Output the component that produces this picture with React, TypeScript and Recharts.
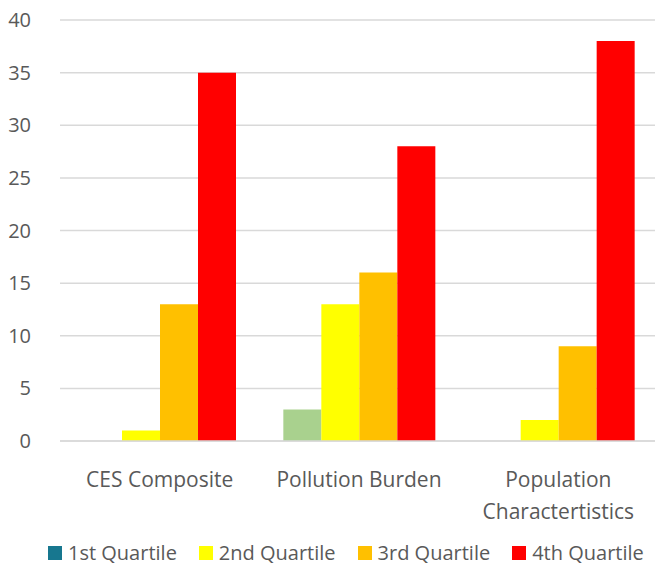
import { BarChart, Bar, XAxis, YAxis, CartesianGrid, Cell } from "recharts";

const categories = ["CES Composite", "Pollution Burden", "Population Charactertistics"];
const q1 = [0, 3, 0];
const q2 = [1, 13, 2];
const q3 = [13, 16, 9];
const q4 = [35, 28, 38];
const yTicks = [0, 5, 10, 15, 20, 25, 30, 35, 40];

const series = [
  { key: "q1", name: "1st Quartile", color: "#17778F" },
  { key: "q2", name: "2nd Quartile", color: "#FFFF00" },
  { key: "q3", name: "3rd Quartile", color: "#FFC000" },
  { key: "q4", name: "4th Quartile", color: "#FF0000" },
];
// the Pollution Burden 1st-quartile bar is drawn in green
const q1PointColors = ["#17778F", "#A9D18E", "#17778F"];

const data = categories.map((name, i) => ({
  name,
  q1: q1[i],
  q2: q2[i],
  q3: q3[i],
  q4: q4[i],
}));

const FONT = "'Open Sans', sans-serif";
const TEXT = "#595959";

function CategoryTick({ x, y, payload }: any) {
  const label: string = payload.value;
  const lines = label === "Population Charactertistics" ? ["Population", "Charactertistics"] : [label];
  return (
    <g transform={`translate(${x},${y})`}>
      {lines.map((l, i) => (
        <text key={i} x={0} y={38 + i * 32} textAnchor="middle" fill={TEXT} fontSize={21} fontFamily={FONT}>
          {l}
        </text>
      ))}
    </g>
  );
}

function LegendBox() {
  return (
    <div
      style={{
        position: "absolute",
        left: 48,
        top: 543,
        display: "flex",
        gap: 22,
        fontFamily: FONT,
        fontSize: 20,
        lineHeight: "20px",
        color: TEXT,
      }}
    >
      {series.map((s) => (
        <div key={s.key} style={{ display: "flex", alignItems: "center", whiteSpace: "nowrap" }}>
          <span style={{ width: 14, height: 14, background: s.color, marginRight: 6, display: "inline-block" }} />
          {s.name}
        </div>
      ))}
    </div>
  );
}

export default function App() {
  return (
    <div style={{ position: "absolute", left: 0, top: 0, width: 655, height: 565, background: "#fff", overflow: "hidden" }}>
      <BarChart
        width={658}
        height={565}
        data={data}
        margin={{ top: 20, right: 0, left: 0, bottom: 0 }}
        barCategoryGap={24}
        barGap={0}
      >
        <CartesianGrid vertical={false} stroke="#D9D9D9" strokeWidth={1.5} />
        <XAxis
          dataKey="name"
          height={124}
          axisLine={{ stroke: "#D9D9D9", strokeWidth: 1.5 }}
          tickLine={false}
          interval={0}
          tick={<CategoryTick />}
        />
        <YAxis
          width={60}
          domain={[0, 40]}
          ticks={yTicks}
          axisLine={false}
          tickLine={false}
          tickMargin={23}
          tick={{ fill: TEXT, fontSize: 20, fontFamily: FONT }}
        />
        {series.map((s) => (
          <Bar key={s.key} dataKey={s.key} name={s.name} fill={s.color} isAnimationActive={false}>
            {s.key === "q1" && data.map((_, i) => <Cell key={`cell-${i}`} fill={q1PointColors[i]} />)}
          </Bar>
        ))}
      </BarChart>
      <LegendBox />
    </div>
  );
}
